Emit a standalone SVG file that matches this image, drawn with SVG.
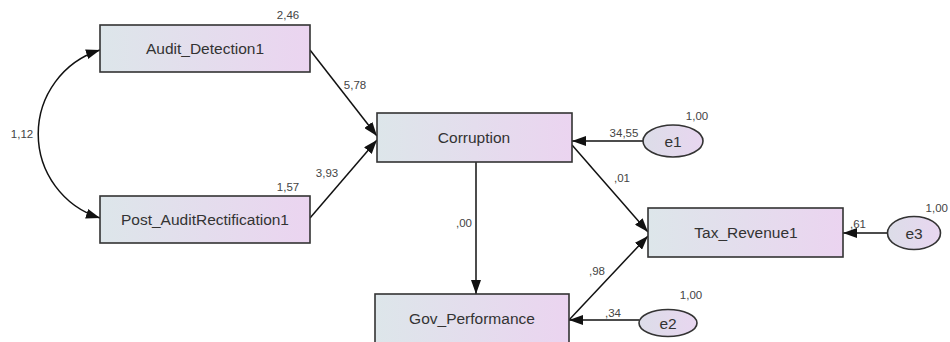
<svg xmlns="http://www.w3.org/2000/svg" width="950" height="342" viewBox="0 0 950 342">
<defs>
<linearGradient id="boxg" x1="0" y1="0" x2="1" y2="0">
<stop offset="0" stop-color="#dde6ea"/>
<stop offset="1" stop-color="#ebd4f0"/>
</linearGradient>
<linearGradient id="ellg" x1="0" y1="0" x2="1" y2="0">
<stop offset="0" stop-color="#dcdde8"/>
<stop offset="1" stop-color="#e8d6f0"/>
</linearGradient>
<marker id="arr" viewBox="0 0 14 10" refX="14" refY="5" markerWidth="14" markerHeight="10" markerUnits="userSpaceOnUse" orient="auto-start-reverse">
<path d="M0,0 L14,5 L0,10 Z" fill="#111"/>
</marker>
</defs>
<style>
.box{fill:url(#boxg);stroke:#333;stroke-width:1.6}
.ell{fill:url(#ellg);stroke:#333;stroke-width:1.6}
.lbl{font-family:"Liberation Sans",Arial,sans-serif;font-size:15.5px;fill:#333;text-anchor:middle}
.num{font-family:"Liberation Sans",Arial,sans-serif;font-size:11.5px;fill:#444;text-anchor:middle}
.con{fill:none;stroke:#111;stroke-width:1.5}
</style>
<rect width="950" height="342" fill="#ffffff"/>
<g id="connectors">
<path class="con" d="M100,50 A88,88 0 0 0 100,218" marker-start="url(#arr)" marker-end="url(#arr)"/>
<line class="con" x1="310" y1="50" x2="377" y2="136" marker-end="url(#arr)"/>
<line class="con" x1="310" y1="218" x2="377" y2="140" marker-end="url(#arr)"/>
<line class="con" x1="476" y1="162" x2="476" y2="294" marker-end="url(#arr)"/>
<line class="con" x1="572" y1="145" x2="648" y2="232" marker-end="url(#arr)"/>
<line class="con" x1="569" y1="320" x2="648" y2="236" marker-end="url(#arr)"/>
<line class="con" x1="643" y1="141" x2="572" y2="141" marker-end="url(#arr)"/>
<line class="con" x1="639" y1="320" x2="569" y2="320" marker-end="url(#arr)"/>
<line class="con" x1="888" y1="233" x2="843" y2="233" marker-end="url(#arr)"/>
<text class="num" x="22" y="138">1,12</text>
<text class="num" x="355" y="89">5,78</text>
<text class="num" x="327" y="177">3,93</text>
<text class="num" x="464" y="227">,00</text>
<text class="num" x="622" y="182">,01</text>
<text class="num" x="597" y="275">,98</text>
<text class="num" x="624" y="137">34,55</text>
<text class="num" x="613" y="317">,34</text>
<text class="num" x="858" y="228">,61</text>
</g>
<g id="audit_detection1">
<rect class="box" x="100" y="25" width="210" height="47"/>
<text class="lbl" x="205" y="54">Audit_Detection1</text>
<text class="num" x="288" y="19">2,46</text>
</g>
<g id="post_auditrectification1">
<rect class="box" x="100" y="196" width="210" height="47"/>
<text class="lbl" x="205" y="225">Post_AuditRectification1</text>
<text class="num" x="288" y="191">1,57</text>
</g>
<g id="corruption">
<rect class="box" x="377" y="113" width="195" height="49"/>
<text class="lbl" x="474" y="143">Corruption</text>
</g>
<g id="gov_performance">
<rect class="box" x="375" y="294" width="194" height="50"/>
<text class="lbl" x="472" y="324">Gov_Performance</text>
</g>
<g id="tax_revenue1">
<rect class="box" x="648" y="208" width="195" height="49"/>
<text class="lbl" x="746" y="238">Tax_Revenue1</text>
</g>
<g id="e1">
<ellipse class="ell" cx="673" cy="141" rx="30" ry="16"/>
<text class="lbl" x="673" y="147">e1</text>
<text class="num" x="697" y="120">1,00</text>
</g>
<g id="e2">
<ellipse class="ell" cx="668" cy="323" rx="29" ry="13.5"/>
<text class="lbl" x="668" y="329">e2</text>
<text class="num" x="691" y="299">1,00</text>
</g>
<g id="e3">
<ellipse class="ell" cx="914" cy="233" rx="26.5" ry="16.5"/>
<text class="lbl" x="914" y="239">e3</text>
<text class="num" x="948" y="212" style="text-anchor:end">1,00</text>
</g>
</svg>
